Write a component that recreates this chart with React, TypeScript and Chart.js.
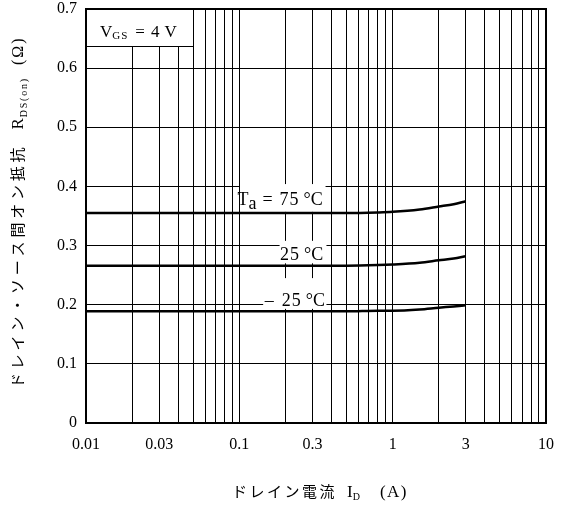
import React, { useEffect, useRef } from "react";
import { Chart, registerables } from "chart.js";

Chart.register(...registerables);

// ---- data ----
const currents = [0.01, 0.1, 0.5, 0.8, 1, 1.5, 2, 2.5, 3];
const rdsTa75 = [0.355, 0.355, 0.355, 0.356, 0.357, 0.361, 0.366, 0.37, 0.375];
const rdsTa25 = [0.266, 0.266, 0.266, 0.267, 0.268, 0.271, 0.275, 0.278, 0.282];
const rdsTaM25 = [0.189, 0.189, 0.189, 0.19, 0.19, 0.192, 0.195, 0.197, 0.199];

const xGridValues = [
  0.01, 0.02, 0.03, 0.04, 0.05, 0.06, 0.07, 0.08, 0.09,
  0.1, 0.2, 0.3, 0.4, 0.5, 0.6, 0.7, 0.8, 0.9,
  1, 2, 3, 4, 5, 6, 7, 8, 9, 10,
];
const xLabelValues = [0.01, 0.03, 0.1, 0.3, 1, 3, 10];
const xLabelTexts = ["0.01", "0.03", "0.1", "0.3", "1", "3", "10"];
const yTickValues = [0, 0.1, 0.2, 0.3, 0.4, 0.5, 0.6, 0.7];
const yTickTexts = ["0", "0.1", "0.2", "0.3", "0.4", "0.5", "0.6", "0.7"];

const SERIF = '"Liberation Serif", "DejaVu Serif", serif';
const CJK = '"Noto Sans CJK JP", "Noto Sans CJK SC", sans-serif';

type Part = { text: string; font: string; dy?: number; ls?: number; gap?: number };

function drawParts(ctx: CanvasRenderingContext2D, parts: Part[], x: number, y: number) {
  let cx = x;
  for (const p of parts) {
    ctx.font = p.font;
    (ctx as any).letterSpacing = (p.ls || 0) + "px";
    ctx.fillText(p.text, cx, y + (p.dy || 0));
    cx += ctx.measureText(p.text).width + (p.gap || 0);
  }
  (ctx as any).letterSpacing = "0px";
  return cx;
}

function partsWidth(ctx: CanvasRenderingContext2D, parts: Part[]) {
  let w = 0;
  for (const p of parts) {
    ctx.font = p.font;
    (ctx as any).letterSpacing = (p.ls || 0) + "px";
    w += ctx.measureText(p.text).width + (p.gap || 0);
  }
  (ctx as any).letterSpacing = "0px";
  return w;
}

// label boxes (data units: x0, x1, y0, y1) and texts
const curveLabels = [
  {
    box: [0.101, 0.365, 0.357, 0.404],
    anchorX: 0.35,
    baseY: 0.368,
    parts: [
      { text: "T", font: `18px ${SERIF}` },
      { text: "a", font: `18px ${SERIF}`, dy: 4, gap: 6 },
      { text: "=", font: `18px ${SERIF}`, gap: 7 },
      { text: "75", font: `18px ${SERIF}`, ls: 1, gap: 4 },
      { text: "°C", font: `18px ${SERIF}` },
    ] as Part[],
  },
  {
    box: [0.183, 0.37, 0.27, 0.308],
    anchorX: 0.352,
    baseY: 0.275,
    parts: [
      { text: "25", font: `18px ${SERIF}`, ls: 1, gap: 4 },
      { text: "°C", font: `18px ${SERIF}` },
    ] as Part[],
  },
  {
    box: [0.143, 0.37, 0.193, 0.245],
    anchorX: 0.362,
    baseY: 0.198,
    parts: [
      { text: "–", font: `18px ${SERIF}`, gap: 8 },
      { text: "25", font: `18px ${SERIF}`, ls: 1, gap: 4 },
      { text: "°C", font: `18px ${SERIF}` },
    ] as Part[],
  },
];

const yTitleParts: Part[] = [
  { text: "ドレイン・ソース間オン抵抗", font: `15px ${CJK}`, ls: 3.8, gap: 14 },
  { text: "R", font: `17px ${SERIF}`, gap: 1 },
];
const yTitleSubParts: Part[] = [
  { text: "DS(on)", font: `10px ${SERIF}`, ls: 1.8, gap: 12 },
];
const yTitleEndParts: Part[] = [{ text: "(Ω)", font: `16px ${SERIF}`, ls: 2 }];

const annotationPlugin = {
  id: "annotations",
  beforeDatasetsDraw(chart: any) {
    const ctx: CanvasRenderingContext2D = chart.ctx;
    const xs = chart.scales.x;
    const ys = chart.scales.y;
    const area = chart.chartArea;
    ctx.save();
    ctx.textBaseline = "alphabetic";

    // VGS box
    const bx1 = xs.getPixelForValue(0.05);
    const by = Math.round(ys.getPixelForValue(0.637)) + 0.5;
    ctx.fillStyle = "#fff";
    ctx.fillRect(area.left + 1, area.top + 1, bx1 - area.left - 2, by - area.top - 1.5);
    ctx.strokeStyle = "#000";
    ctx.lineWidth = 1;
    ctx.beginPath();
    ctx.moveTo(area.left, by);
    ctx.lineTo(bx1, by);
    ctx.stroke();
    ctx.fillStyle = "#000";
    drawParts(
      ctx,
      [
        { text: "V", font: `17px ${SERIF}` },
        { text: "GS", font: `11px ${SERIF}`, dy: 2, ls: 1, gap: 7 },
        { text: "=", font: `17px ${SERIF}`, gap: 6 },
        { text: "4", font: `17px ${SERIF}`, gap: 5 },
        { text: "V", font: `17px ${SERIF}` },
      ],
      area.left + 14,
      ys.getPixelForValue(0.652)
    );

    // curve labels
    for (const l of curveLabels) {
      const [x0, x1, y0, y1] = l.box;
      const px0 = xs.getPixelForValue(x0);
      const px1 = xs.getPixelForValue(x1);
      const py0 = ys.getPixelForValue(y0);
      const py1 = ys.getPixelForValue(y1);
      ctx.fillStyle = "#fff";
      ctx.fillRect(px0, py1, px1 - px0, py0 - py1);
      ctx.fillStyle = "#000";
      const w = partsWidth(ctx, l.parts);
      drawParts(ctx, l.parts, xs.getPixelForValue(l.anchorX) - w, ys.getPixelForValue(l.baseY));
    }
    ctx.restore();
  },
  afterDraw(chart: any) {
    const ctx: CanvasRenderingContext2D = chart.ctx;
    const area = chart.chartArea;
    ctx.save();
    // frame
    ctx.strokeStyle = "#000";
    ctx.lineWidth = 2;
    ctx.strokeRect(area.left, area.top, area.right - area.left, area.bottom - area.top);
    ctx.restore();

    // y title (rotated)
    ctx.save();
    ctx.fillStyle = "#000";
    ctx.textBaseline = "alphabetic";
    ctx.translate(17, 388);
    ctx.rotate(-Math.PI / 2);
    let cx = drawParts(ctx, yTitleParts, 0, 6);
    cx = drawParts(ctx, yTitleSubParts, cx, 10);
    drawParts(ctx, yTitleEndParts, cx, 6);
    ctx.restore();

    // x title
    ctx.save();
    ctx.fillStyle = "#000";
    ctx.textBaseline = "alphabetic";
    drawParts(
      ctx,
      [
        { text: "ドレイン電流", font: `15px ${CJK}`, ls: 2.5, gap: 10 },
        { text: "I", font: `17px ${SERIF}` },
        { text: "D", font: `10px ${SERIF}`, dy: 3, gap: 20 },
        { text: "(A)", font: `17px ${SERIF}`, ls: 1.5 },
      ],
      232,
      497
    );
    ctx.restore();
  },
};

export default function App() {
  const ref = useRef<HTMLCanvasElement | null>(null);

  useEffect(() => {
    if (!ref.current) return;
    const mk = (vals: number[]) => currents.map((c, i) => ({ x: c, y: vals[i] }));
    const ds = (vals: number[]) => ({
      data: mk(vals),
      borderColor: "#000",
      borderWidth: 2.5,
      pointRadius: 0,
      fill: false,
      cubicInterpolationMode: "monotone" as const,
    });
    const chart = new Chart(ref.current, {
      type: "line",
      data: {
        datasets: [ds(rdsTa75), ds(rdsTa25), ds(rdsTaM25)],
      },
      options: {
        responsive: false,
        animation: false,
        devicePixelRatio: 1,
        layout: { padding: { left: 0, right: 18, top: 9, bottom: 0 } },
        plugins: { legend: { display: false }, tooltip: { enabled: false } },
        scales: {
          x: {
            type: "logarithmic",
            min: 0.01,
            max: 10,
            afterBuildTicks: (axis: any) => {
              axis.ticks = xGridValues.map((v) => ({ value: v }));
            },
            afterFit: (axis: any) => {
              axis.height = 86;
              axis.paddingLeft = 0;
              axis.paddingRight = 0;
            },
            grid: { color: "#000", lineWidth: 1, drawTicks: false },
            border: { display: true, color: "#000", width: 2 },
            ticks: {
              autoSkip: false,
              maxRotation: 0,
              minRotation: 0,
              padding: 12,
              color: "#000",
              font: { family: SERIF, size: 16 },
              callback: (value: any) => {
                const v = Number(value);
                const idx = xLabelValues.findIndex((l) => Math.abs(l - v) / l < 1e-6);
                return idx >= 0 ? xLabelTexts[idx] : "";
              },
            },
          },
          y: {
            type: "linear",
            min: 0,
            max: 0.7,
            afterBuildTicks: (axis: any) => {
              axis.ticks = yTickValues.map((v) => ({ value: v }));
            },
            afterFit: (axis: any) => {
              axis.width = 86;
              axis.paddingTop = 0;
              axis.paddingBottom = 0;
            },
            grid: { color: "#000", lineWidth: 1, drawTicks: false },
            border: { display: true, color: "#000", width: 2 },
            ticks: {
              padding: 9,
              color: "#000",
              font: { family: SERIF, size: 16 },
              callback: (_v: any, i: number) => yTickTexts[i],
            },
          },
        },
      },
      plugins: [annotationPlugin],
    });
    return () => chart.destroy();
  }, []);

  return (
    <canvas
      ref={ref}
      width={564}
      height={509}
      style={{ position: "absolute", left: 0, top: 0, display: "block", background: "#fff" }}
    />
  );
}
